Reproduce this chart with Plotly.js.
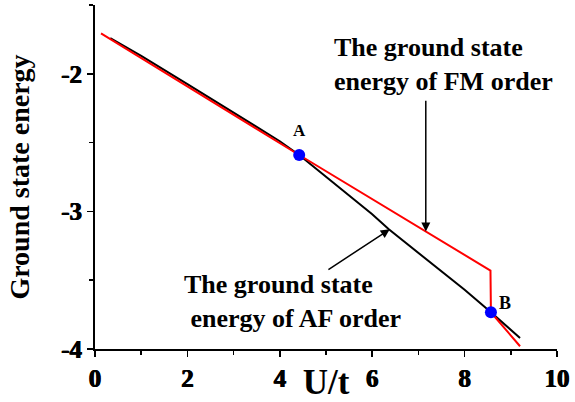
<!DOCTYPE html>
<html>
<head>
<meta charset="utf-8">
<script src="https://cdn.plot.ly/plotly-3.0.1.min.js"></script>
<style>html,body{margin:0;padding:0;background:#fff;}#chart{width:575px;height:402px;}</style>
</head>
<body>
<div id="chart"></div>
<script>
// AF order (black)
const afU = [0.33, 1, 2, 3, 4, 4.42, 5, 6, 6.36, 7, 8, 8.57, 9.2];
const afE = [-1.74, -1.87, -2.075, -2.28, -2.49, -2.59, -2.75, -3.02, -3.13, -3.30, -3.57, -3.733, -3.92];
// FM order (red)
const fmU = [0.13, 4.42, 8.56, 8.57, 9.2];
const fmE = [-1.706, -2.59, -3.43, -3.733, -3.98];
// Crossing points
const ptLabels = ['A', 'B'];
const ptU = [4.42, 8.57];
const ptE = [-2.59, -3.733];
// Ticks
const xTickVals = [0, 2, 4, 6, 8, 10];
const xTickText = ['0', '2', '4', '6', '8', '10'];
const yTickVals = [-4, -3, -2];
const yTickText = ['-4', '-3', '-2'];

const FONT = 'Liberation Serif';
const W = 700;
const HEAVY = '0.6px 0px 0px #000, -0.4px 0px 0px #000';

const traces = [
  {x: afU, y: afE, mode: 'lines', line: {color: '#000000', width: 2}, name: 'AF', showlegend: false},
  {x: fmU, y: fmE, mode: 'lines', line: {color: '#ff0000', width: 2}, name: 'FM', showlegend: false},
  {x: ptU, y: ptE, mode: 'markers', marker: {color: '#0000ff', size: 12}, showlegend: false}
];

const layout = {
  width: 575, height: 402,
  margin: {l: 95, r: 18, t: 5, b: 53},
  paper_bgcolor: '#fff', plot_bgcolor: '#fff',
  font: {family: FONT, color: '#000', size: 25, weight: W},
  xaxis: {
    showline: true, linecolor: '#000', linewidth: 2, showgrid: false, zeroline: false,
    ticks: 'outside', ticklen: 6, tickwidth: 1.5, tickcolor: '#000',
    tickfont: {family: FONT, size: 25, color: '#000', weight: W, shadow: HEAVY},
    range: [0, 10], tickmode: 'array', tickvals: xTickVals, ticktext: xTickText,
    minor: {dtick: 1, tick0: 0, ticks: 'outside', ticklen: 4, tickwidth: 1.5, tickcolor: '#000'},
    title: {text: 'U/t', font: {family: FONT, size: 35, weight: W, color: '#000'}, standoff: 0}
  },
  yaxis: {
    showline: true, linecolor: '#000', linewidth: 2, showgrid: false, zeroline: false,
    ticks: 'outside', ticklen: 6, tickwidth: 1.5, tickcolor: '#000',
    tickfont: {family: FONT, size: 25, color: '#000', weight: W, shadow: HEAVY},
    range: [-4, -1.5], tickmode: 'array', tickvals: yTickVals, ticktext: yTickText,
    minor: {dtick: 0.5, tick0: -4, ticks: 'outside', ticklen: 4, tickwidth: 1.5, tickcolor: '#000'},
    title: {text: 'Ground state energy', font: {family: FONT, size: 28, weight: W, color: '#000'}, standoff: 23}
  },
  annotations: [
    {x: ptU[0], y: -2.41, xref: 'x', yref: 'y', text: ptLabels[0], showarrow: false,
     font: {family: FONT, size: 17, weight: W, color: '#000'}},
    {x: 8.87, y: -3.668, xref: 'x', yref: 'y', text: ptLabels[1], showarrow: false,
     font: {family: FONT, size: 18, weight: W, color: '#000'}},
    {x: 5.13, y: -1.93, xref: 'x', yref: 'y', xanchor: 'left', yanchor: 'middle', align: 'left',
     text: 'The ground state<br>energy of FM order', showarrow: false,
     font: {family: FONT, size: 26, weight: W, color: '#000'}},
    {x: 1.88, y: -3.653, xref: 'x', yref: 'y', xanchor: 'left', yanchor: 'middle', align: 'left',
     text: 'The ground state<br>\u00A0energy of AF order', showarrow: false,
     font: {family: FONT, size: 26, weight: W, color: '#000'}},
    {x: 7.16, y: -3.146, xref: 'x', yref: 'y', axref: 'x', ayref: 'y', ax: 7.16, ay: -2.185,
     text: '', showarrow: true, arrowhead: 2, arrowsize: 1.2, arrowwidth: 1.5, arrowcolor: '#000'},
    {x: 6.38, y: -3.13, xref: 'x', yref: 'y', axref: 'x', ayref: 'y', ax: 5.02, ay: -3.43,
     text: '', showarrow: true, arrowhead: 2, arrowsize: 1.2, arrowwidth: 1.5, arrowcolor: '#000'}
  ]
};

Plotly.newPlot('chart', traces, layout, {displayModeBar: false, staticPlot: true});
</script>
</body>
</html>
